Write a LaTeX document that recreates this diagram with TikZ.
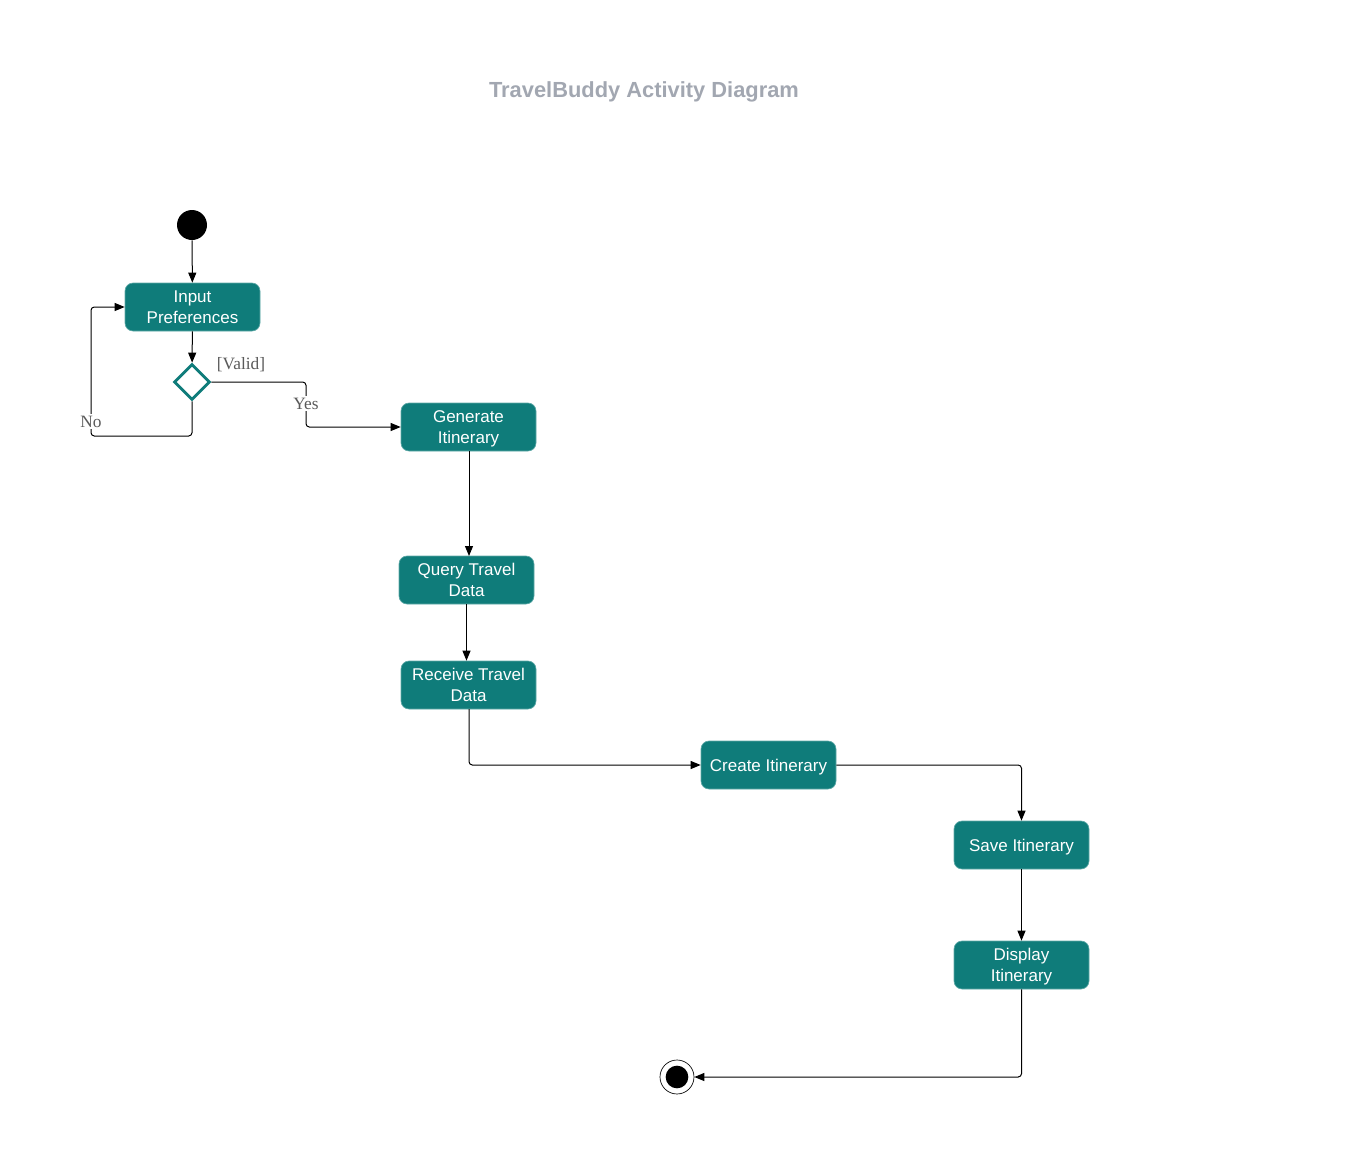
\documentclass[tikz,border=0pt]{standalone}
\usepackage{fontspec}
\setmainfont{Liberation Sans}
\newfontfamily\labelfont{Liberation Serif}
\usetikzlibrary{arrows.meta,shapes.geometric}
\definecolor{tealbox}{HTML}{0F7C7A}
\definecolor{tealedge}{HTML}{5FA9A7}
\definecolor{titlegray}{HTML}{A2A7B1}
\definecolor{guardgray}{HTML}{5A5A5A}
\begin{document}
\begin{tikzpicture}[x=0.75pt,y=-0.75pt,
  action/.style={draw=tealedge,line width=0.5pt,fill=tealbox,rounded corners=6pt,
    minimum width=101.25pt,minimum height=36pt,inner sep=0pt,align=center,
    text=white,font=\fontsize{12.75}{15.5}\selectfont,text depth=0pt},
  decision/.style={diamond,draw=tealbox,fill=white,line width=2.2pt,
    minimum width=27pt,minimum height=27pt,inner sep=0pt},
  startnode/.style={circle,fill=black,minimum size=22.5pt,inner sep=0pt},
  flow/.style={draw=black,line width=0.75pt,rounded corners=2.5pt,
    -{Triangle[length=7.5pt,width=6pt]}},
  guard/.style={font=\labelfont\fontsize{13}{15}\selectfont,text=guardgray,inner sep=1pt}]
\useasboundingbox (0,0) rectangle (1361,1167);

% title
\node[font=\bfseries\fontsize{16.4}{19}\selectfont,text=titlegray] (title) at (644,91.5) {TravelBuddy Activity Diagram};

% activity nodes
\node[startnode] (start) at (192,225) {};
\node[action] (input) at (192.5,307) {Input\\Preferences};
\node[decision] (check) at (192,382) {};
\node[action] (gen) at (468.5,427) {Generate\\Itinerary};
\node[action] (query) at (466.5,580) {Query Travel\\Data};
\node[action] (recv) at (468.5,685) {Receive Travel\\Data};
\node[action] (create) at (768.5,765) {Create Itinerary};
\node[action] (save) at (1021.5,845) {Save Itinerary};
\node[action] (show) at (1021.5,965) {Display\\Itinerary};
\node[circle,draw=black,line width=0.5pt,fill=white,minimum size=25.5pt,inner sep=0pt] (finish) at (677,1077) {};
\node[circle,fill=black,minimum size=17pt,inner sep=0pt] (finishdot) at (677,1077) {};

% connectors
\draw[flow] (start) -- (input);
\draw[flow] (input) -- (check);
\draw[flow] (check.east) -- (306,382) -- (306,427) -- (gen.west);
\draw[flow] (check.south) -- (192,436) -- (91,436) -- (91,307) -- (input.west);
\draw[flow] (469,451) -- (469,556);
\draw[flow] (query.south) -- (query.south |- recv.north);
\draw[flow] (469,709) -- (469,765) -- (create.west);
\draw[flow] (create.east) -- (1021.5,765) -- (save.north);
\draw[flow] (save) -- (show);
\draw[flow] (show.south) -- (1021.5,1077) -- (finish.east);

% guard labels
\node[guard] (valid) at (241,364.5) {[Valid]};
\node[guard,fill=white] (yes) at (306,403.5) {Yes};
\node[guard,fill=white] (no) at (91,421.5) {No};
\end{tikzpicture}
\end{document}
